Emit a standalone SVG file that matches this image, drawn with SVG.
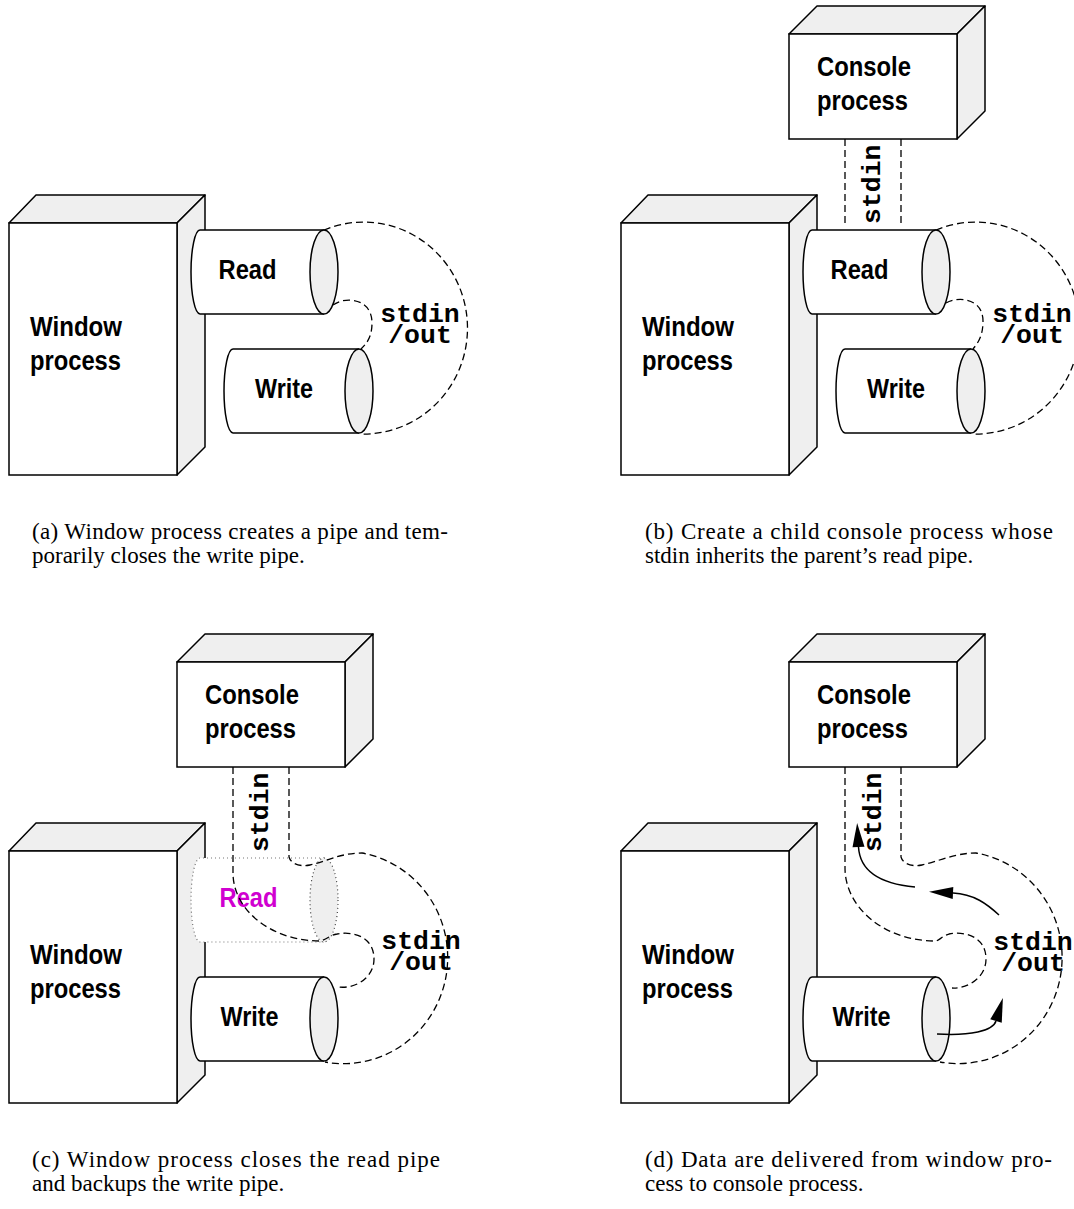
<svg xmlns="http://www.w3.org/2000/svg" width="1074" height="1209" viewBox="0 0 1074 1209">
<style>
.face{fill:#efefef;stroke:#000;stroke-width:1.5;stroke-linejoin:round}
.front{fill:#fff;stroke:#000;stroke-width:1.5}
.cyl{fill:#fff;stroke:#000;stroke-width:1.5}
.cylend{fill:#efefef;stroke:#000;stroke-width:1.5}
.cyldot{fill:#fff;stroke:#777;stroke-width:1.2;stroke-dasharray:1 3}
.cylenddot{fill:#efefef;stroke:#444;stroke-width:1.2;stroke-dasharray:1 3}
.dash{fill:none;stroke:#000;stroke-width:1.3;stroke-dasharray:7 4}
.arrow{fill:none;stroke:#000;stroke-width:1.5;marker-end:url(#ah)}
.lbl{font-family:"Liberation Sans",Arial,sans-serif;font-weight:bold;font-size:27px;fill:#000}
.mono{font-family:"Liberation Mono","Courier New",monospace;font-weight:bold;font-size:26.5px;fill:#000}
.cap{font-family:"Liberation Serif","Times New Roman",serif;font-size:23px;fill:#000}
.mag{fill:#d000d0}
</style>
<defs>
<marker id="ah" viewBox="0 -6 24 12" markerWidth="24" markerHeight="12" refX="0" refY="0" orient="auto" markerUnits="userSpaceOnUse" overflow="visible">
<path d="M0,-6 L24,0 L0,6 Z" fill="#000"/>
</marker>
</defs>
<rect width="1074" height="1209" fill="#fff"/>

<!-- Panel (a) -->
<g id="panel-a">
<g id="a-window">
<polygon class="face" points="9,223 36,195 205,195 177,223"/>
<polygon class="face" points="177,223 205,195 205,447 177,475"/>
<rect class="front" x="9" y="223" width="168" height="252"/>
<text class="lbl" x="30" y="336" textLength="92" lengthAdjust="spacingAndGlyphs">Window</text>
<text class="lbl" x="30" y="370" textLength="91" lengthAdjust="spacingAndGlyphs">process</text>
</g>
<g id="a-read">
<path class="cyl" d="M324 230 L200 230 A9 42 0 0 0 200 314 L324 314"/>
<ellipse class="cylend" cx="324" cy="272" rx="14" ry="42"/>
<text class="lbl" x="247.5" y="279" text-anchor="middle" textLength="58" lengthAdjust="spacingAndGlyphs">Read</text>
</g>
<g id="a-write">
<path class="cyl" d="M359 349 L233 349 A9 42 0 0 0 233 433 L359 433"/>
<ellipse class="cylend" cx="359" cy="391" rx="14" ry="42"/>
<text class="lbl" x="284" y="398" text-anchor="middle" textLength="58" lengthAdjust="spacingAndGlyphs">Write</text>
</g>
<g id="a-connectors">
<path class="dash" d="M324 230 A104 106 0 1 1 360 434"/>
<path class="dash" d="M333 305 C345 296 372 298 372 323 C372 338 366 344 361 349"/>
<text class="mono" x="420" y="322" text-anchor="middle">stdin</text>
<text class="mono" x="420" y="343" text-anchor="middle">/out</text>
</g>
</g>

<!-- Panel (b) -->
<g id="panel-b" transform="translate(612,0)">
<g id="b-console">
<polygon class="face" points="177,34 205,6 373,6 345,34"/>
<polygon class="face" points="345,34 373,6 373,111 345,139"/>
<rect class="front" x="177" y="34" width="168" height="105"/>
<text class="lbl" x="205" y="76" textLength="94" lengthAdjust="spacingAndGlyphs">Console</text>
<text class="lbl" x="205" y="110" textLength="91" lengthAdjust="spacingAndGlyphs">process</text>
</g>
<g id="b-window">
<polygon class="face" points="9,223 36,195 205,195 177,223"/>
<polygon class="face" points="177,223 205,195 205,447 177,475"/>
<rect class="front" x="9" y="223" width="168" height="252"/>
<text class="lbl" x="30" y="336" textLength="92" lengthAdjust="spacingAndGlyphs">Window</text>
<text class="lbl" x="30" y="370" textLength="91" lengthAdjust="spacingAndGlyphs">process</text>
</g>
<g id="b-read">
<path class="cyl" d="M324 230 L200 230 A9 42 0 0 0 200 314 L324 314"/>
<ellipse class="cylend" cx="324" cy="272" rx="14" ry="42"/>
<text class="lbl" x="247.5" y="279" text-anchor="middle" textLength="58" lengthAdjust="spacingAndGlyphs">Read</text>
</g>
<g id="b-write">
<path class="cyl" d="M359 349 L233 349 A9 42 0 0 0 233 433 L359 433"/>
<ellipse class="cylend" cx="359" cy="391" rx="14" ry="42"/>
<text class="lbl" x="284" y="398" text-anchor="middle" textLength="58" lengthAdjust="spacingAndGlyphs">Write</text>
</g>
<g id="b-connectors">
<path class="dash" d="M233 139 L233 223"/>
<path class="dash" d="M289 139 L289 223"/>
<text class="mono" transform="translate(268,224) rotate(-90)">stdin</text>
<path class="dash" d="M324 230 A104 106 0 1 1 360 434"/>
<path class="dash" d="M334 303 C346 296 371 298 371 321 C371 336 366 343 361 349"/>
<text class="mono" x="420" y="322" text-anchor="middle">stdin</text>
<text class="mono" x="420" y="343" text-anchor="middle">/out</text>
</g>
</g>

<!-- Panel (c) -->
<g id="panel-c" transform="translate(0,628)">
<g id="c-console">
<polygon class="face" points="177,34 205,6 373,6 345,34"/>
<polygon class="face" points="345,34 373,6 373,111 345,139"/>
<rect class="front" x="177" y="34" width="168" height="105"/>
<text class="lbl" x="205" y="76" textLength="94" lengthAdjust="spacingAndGlyphs">Console</text>
<text class="lbl" x="205" y="110" textLength="91" lengthAdjust="spacingAndGlyphs">process</text>
</g>
<g id="c-window">
<polygon class="face" points="9,223 36,195 205,195 177,223"/>
<polygon class="face" points="177,223 205,195 205,447 177,475"/>
<rect class="front" x="9" y="223" width="168" height="252"/>
<text class="lbl" x="30" y="336" textLength="92" lengthAdjust="spacingAndGlyphs">Window</text>
<text class="lbl" x="30" y="370" textLength="91" lengthAdjust="spacingAndGlyphs">process</text>
</g>
<g id="c-read">
<path class="cyldot" d="M324 230 L200 230 A9 42 0 0 0 200 314 L324 314"/>
<ellipse class="cylenddot" cx="324" cy="272" rx="14" ry="42"/>
<text class="lbl mag" x="248.5" y="279" text-anchor="middle" textLength="58" lengthAdjust="spacingAndGlyphs">Read</text>
</g>
<g id="c-write">
<path class="cyl" d="M324 349 L200 349 A9 42 0 0 0 200 433 L324 433"/>
<ellipse class="cylend" cx="324" cy="391" rx="14" ry="42"/>
<text class="lbl" x="249.5" y="398" text-anchor="middle" textLength="58" lengthAdjust="spacingAndGlyphs">Write</text>
</g>
<g id="c-connectors">
<path class="dash" d="M233 139 L233 245 A87 68 0 0 0 320 313 C326 312 330 307 337 306 C352 303 374 308 374 331 C374 350 355 361 339 359"/>
<path class="dash" d="M289 139 L289 229 C291 236 300 239 310 237 C325 234 340 225 362 225 A104 106 0 1 1 325 434"/>
<text class="mono" transform="translate(268,224) rotate(-90)">stdin</text>
<text class="mono" x="421" y="321" text-anchor="middle">stdin</text>
<text class="mono" x="421" y="342" text-anchor="middle">/out</text>
</g>
</g>

<!-- Panel (d) -->
<g id="panel-d" transform="translate(612,628)">
<g id="d-console">
<polygon class="face" points="177,34 205,6 373,6 345,34"/>
<polygon class="face" points="345,34 373,6 373,111 345,139"/>
<rect class="front" x="177" y="34" width="168" height="105"/>
<text class="lbl" x="205" y="76" textLength="94" lengthAdjust="spacingAndGlyphs">Console</text>
<text class="lbl" x="205" y="110" textLength="91" lengthAdjust="spacingAndGlyphs">process</text>
</g>
<g id="d-window">
<polygon class="face" points="9,223 36,195 205,195 177,223"/>
<polygon class="face" points="177,223 205,195 205,447 177,475"/>
<rect class="front" x="9" y="223" width="168" height="252"/>
<text class="lbl" x="30" y="336" textLength="92" lengthAdjust="spacingAndGlyphs">Window</text>
<text class="lbl" x="30" y="370" textLength="91" lengthAdjust="spacingAndGlyphs">process</text>
</g>
<g id="d-write">
<path class="cyl" d="M324 349 L200 349 A9 42 0 0 0 200 433 L324 433"/>
<ellipse class="cylend" cx="324" cy="391" rx="14" ry="42"/>
<text class="lbl" x="249.5" y="398" text-anchor="middle" textLength="58" lengthAdjust="spacingAndGlyphs">Write</text>
</g>
<g id="d-connectors">
<path class="dash" d="M233 139 L233 240 A90 73 0 0 0 324 313 C328 312 330 308 337 306 C352 303 374 308 374 331 C374 350 355 361 340 360"/>
<path class="dash" d="M289 139 L289 229 C291 236 300 239 310 237 C325 234 342 225 364 225 A104 106 0 1 1 328 434"/>
<text class="mono" transform="translate(269,224) rotate(-90)">stdin</text>
<text class="mono" x="421" y="322" text-anchor="middle">stdin</text>
<text class="mono" x="421" y="343" text-anchor="middle">/out</text>
<path class="arrow" d="M325 406 C358 408 381 403 384 393"/>
<path class="arrow" d="M387 287 C375 276 362 266 341 265"/>
<path class="arrow" d="M303 259 C270 256 248 245 246.5 219"/>
</g>
</g>

<!-- Captions -->
<g id="captions">
<text class="cap" x="32" y="539" textLength="416" lengthAdjust="spacing">(a) Window process creates a pipe and tem-</text>
<text class="cap" x="32" y="563">porarily closes the write pipe.</text>
<text class="cap" x="645" y="539" textLength="408" lengthAdjust="spacing">(b) Create a child console process whose</text>
<text class="cap" x="645" y="563">stdin inherits the parent’s read pipe.</text>
<text class="cap" x="32" y="1167" textLength="408" lengthAdjust="spacing">(c) Window process closes the read pipe</text>
<text class="cap" x="32" y="1191">and backups the write pipe.</text>
<text class="cap" x="645" y="1167" textLength="407" lengthAdjust="spacing">(d) Data are delivered from window pro-</text>
<text class="cap" x="645" y="1191">cess to console process.</text>
</g>
</svg>
